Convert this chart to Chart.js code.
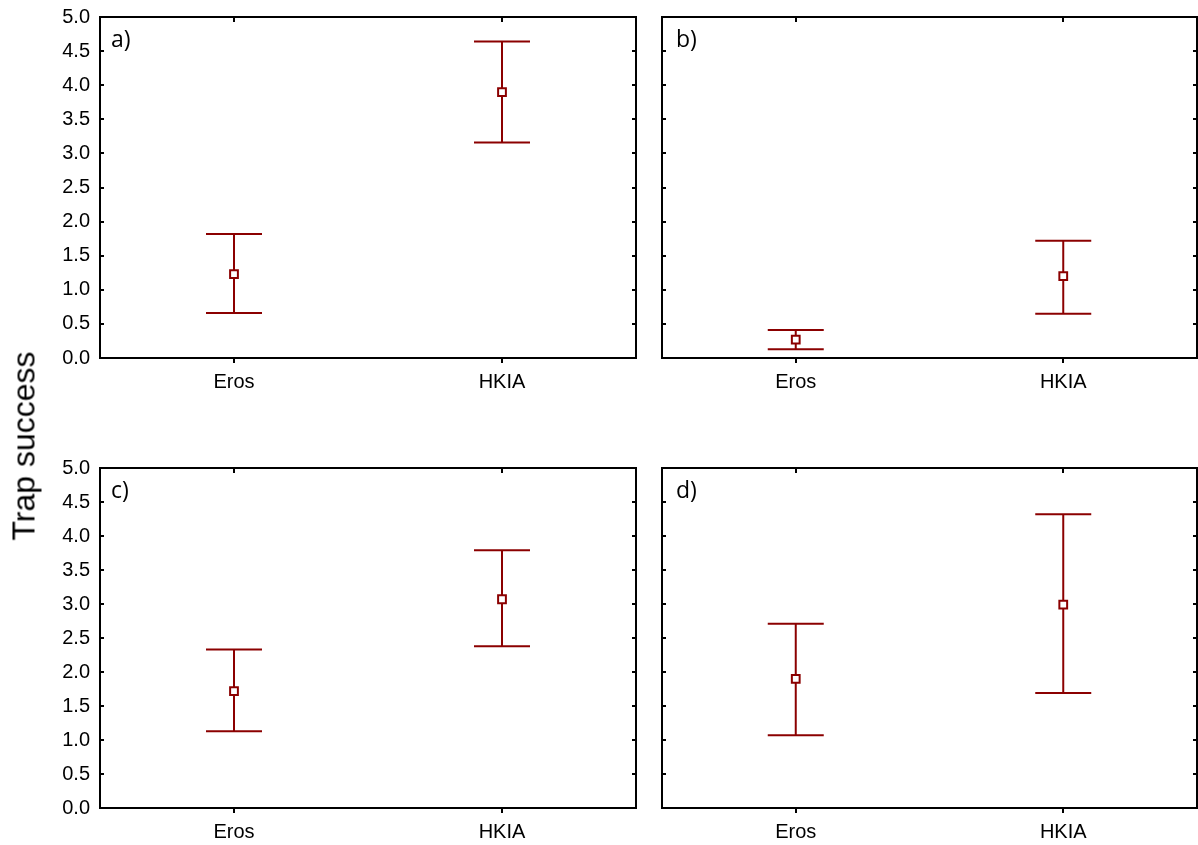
<!DOCTYPE html>
<html>
<head>
<meta charset="utf-8">
<title>Trap success</title>
<script src="https://cdn.jsdelivr.net/npm/chart.js@4.4.1/dist/chart.umd.min.js"></script>
<style>
    body { margin: 0; background: #fff; width: 1198px; height: 845px; position: relative; overflow: hidden; font-family: "Liberation Sans", Arial, sans-serif; }
    canvas { position: absolute; }
    .tag { position: absolute; font-family: "Open Sans", "Noto Sans", sans-serif; font-size: 23px; line-height: 1; color: #000; }
    #ylabel { position: absolute; left: 24px; top: 446px; transform: translate(-50%, -50%) rotate(-90deg); font-size: 32px; white-space: nowrap; color: #000; }
</style>
</head>
<body>
<canvas id="panelA" width="640" height="400" style="left:0;top:0"></canvas>
<canvas id="panelB" width="558" height="400" style="left:640px;top:0"></canvas>
<canvas id="panelC" width="640" height="395" style="left:0;top:450px"></canvas>
<canvas id="panelD" width="558" height="395" style="left:640px;top:450px"></canvas>
<div class="tag" style="left:111px;top:27px">a)</div>
<div class="tag" style="left:676px;top:27px">b)</div>
<div class="tag" style="left:111px;top:478px">c)</div>
<div class="tag" style="left:676px;top:478px">d)</div>
<div id="ylabel">Trap success</div>
<script>
// Categories and tick labels
const categories = ['Eros', 'HKIA'];
const yTickValues = [0, 0.5, 1, 1.5, 2, 2.5, 3, 3.5, 4, 4.5, 5];

// a) mean and interval bounds
const meanA = [1.23, 3.90];
const lowerA = [0.66, 3.16];
const upperA = [1.82, 4.64];

// b)
const meanB = [0.27, 1.20];
const lowerB = [0.13, 0.65];
const upperB = [0.41, 1.72];

// c)
const meanC = [1.72, 3.07];
const lowerC = [1.13, 2.38];
const upperC = [2.33, 3.79];

// d)
const meanD = [1.90, 2.99];
const lowerD = [1.07, 1.69];
const upperD = [2.71, 4.32];

const barColor = '#8b0000';

// box around the plot with small tick marks, like the original figure
const frameTicks = {
    id: 'frameTicks',
    afterDraw(chart) {
        const { ctx, chartArea: a, scales: { x, y } } = chart;
        ctx.save();
        ctx.strokeStyle = '#000';
        ctx.lineWidth = 2;
        ctx.strokeRect(a.left, a.top, a.right - a.left, a.bottom - a.top);
        ctx.beginPath();
        y.ticks.forEach((t, i) => {
            const py = Math.round(y.getPixelForTick(i));
            ctx.moveTo(a.left, py); ctx.lineTo(a.left + 4, py);
            ctx.moveTo(a.right, py); ctx.lineTo(a.right - 4, py);
        });
        x.ticks.forEach((t, i) => {
            const px = Math.round(x.getPixelForTick(i));
            ctx.moveTo(px, a.top); ctx.lineTo(px, a.top + 5);
            ctx.moveTo(px, a.bottom); ctx.lineTo(px, a.bottom + 5);
        });
        ctx.stroke();
        ctx.restore();
    }
};

// no extra room for labels, the layout padding decides where the plot sits
function noPadding(scale) {
    scale.paddingLeft = 0;
    scale.paddingRight = 0;
    scale.paddingTop = 0;
    scale.paddingBottom = 0;
}

function buildDatasets(mean, lower, upper) {
    const datasets = [{
        data: categories.map((c, i) => ({ x: c, y: mean[i] })),
        showLine: false,
        pointStyle: 'rect',
        pointRadius: 5.5,
        pointBorderWidth: 2,
        pointBorderColor: barColor,
        pointBackgroundColor: '#fff'
    }];
    categories.forEach((c, i) => {
        datasets.push({
            data: [{ x: c, y: lower[i] }, { x: c, y: upper[i] }],
            showLine: true,
            borderColor: barColor,
            borderWidth: 2,
            pointStyle: 'line',
            pointRadius: 28,
            pointBorderWidth: 2,
            pointBorderColor: barColor
        });
    });
    return datasets;
}

function makePanel(id, mean, lower, upper, opts) {
    const ctx = document.getElementById(id).getContext('2d');
    return new Chart(ctx, {
        type: 'line',
        data: { datasets: buildDatasets(mean, lower, upper) },
        options: {
            responsive: false,
            animation: false,
            events: [],
            layout: { autoPadding: false, padding: { top: opts.top, right: opts.right, left: 0, bottom: 0 } },
            plugins: { legend: { display: false }, tooltip: { enabled: false } },
            scales: {
                x: {
                    type: 'category',
                    labels: categories,
                    offset: true,
                    grid: { display: false, drawTicks: false },
                    border: { display: false },
                    ticks: { color: '#000', font: { family: '"Liberation Sans", Arial', size: 20 }, padding: 12, maxRotation: 0 },
                    afterFit(scale) {
                        scale.height = opts.xHeight;
                        noPadding(scale);
                    }
                },
                y: {
                    min: 0,
                    max: 5,
                    grid: { display: false, drawTicks: false },
                    border: { display: false },
                    afterBuildTicks(scale) { scale.ticks = yTickValues.map(v => ({ value: v })); },
                    ticks: {
                        display: opts.yLabels,
                        color: '#000',
                        padding: 10,
                        font: { family: '"Liberation Sans", Arial', size: 20 },
                        callback: v => Number(v).toFixed(1)
                    },
                    afterFit(scale) {
                        scale.width = opts.yWidth;
                        noPadding(scale);
                    }
                }
            }
        },
        plugins: [frameTicks]
    });
}

makePanel('panelA', meanA, lowerA, upperA, { top: 17, right: 4, xHeight: 42, yWidth: 100, yLabels: true });
makePanel('panelB', meanB, lowerB, upperB, { top: 17, right: 1, xHeight: 42, yWidth: 22, yLabels: false });
makePanel('panelC', meanC, lowerC, upperC, { top: 18, right: 4, xHeight: 37, yWidth: 100, yLabels: true });
makePanel('panelD', meanD, lowerD, upperD, { top: 18, right: 1, xHeight: 37, yWidth: 22, yLabels: false });
</script>
</body>
</html>
